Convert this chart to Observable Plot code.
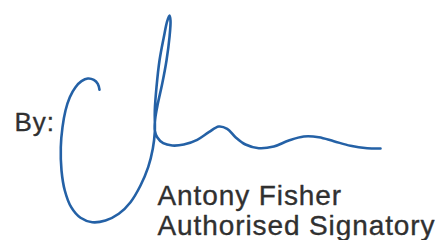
<!DOCTYPE html>
<html>
<head>
<meta charset="utf-8">
<script src="https://cdn.jsdelivr.net/npm/d3@7"></script>
<script src="https://cdn.jsdelivr.net/npm/@observablehq/plot@0.6"></script>
<style>
  html, body { margin: 0; padding: 0; background: #fff; }
  #chart svg { display: block; }
</style>
</head>
<body>
<div id="chart"></div>
<script>
// Signature stroke points (x, y in picture units, y downward)
const strokeX = [99,97.3,93.3,87.3,81,75,69.3,65,62,60.3,61,64.3,70.7,80,91.7,105,118.3,130,140,147.7,152.3,154.3,154.3,156,159,163.3,166.7,169,170,169,166,161.7,157.3,154.7,154.3,156.7,162.7,171.7,183.3,196.7,208.3,218.3,226.7,235,245,258.3,273.3,288.3,303.3,318.3,333.3,350,366.7,380];
const strokeY = [89.3,83.3,79.3,78,80.7,86.7,96.7,110,126.7,146.7,170,190,206.7,217.3,221.7,220,213.3,201.7,185,166.7,148.3,131.7,110,86.7,60,36.7,20.7,15,20,36.7,60,83.3,103.3,118.3,130,136.7,142.7,145,144,139.3,131.7,126,128.3,136.7,144,147.7,146,140,136,136.7,140.7,145.3,147.7,148];

// Text labels
const labelText = ["By:", "Antony Fisher", "Authorised Signatory"];
const labelX = [14, 157, 157];
const labelY = [130, 204, 234];

const stroke = strokeX.map((x, i) => ({x, y: strokeY[i]}));
const labels = labelText.map((t, i) => ({t, x: labelX[i], y: labelY[i]}));

const textStyle = {x: "x", y: "y", text: "t", textAnchor: "start", lineAnchor: "bottom", fontFamily: "Liberation Sans, Arial, sans-serif", fill: "#303030", stroke: "#303030", strokeWidth: 0.35};

const chart = Plot.plot({
  width: 443,
  height: 240,
  margin: 0,
  style: {background: "#fff"},
  x: {domain: [0, 443], range: [0, 443], axis: null},
  y: {domain: [0, 240], range: [0, 240], axis: null},
  marks: [
    Plot.line(stroke, {x: "x", y: "y", curve: "catmull-rom", stroke: "#2461a6", strokeWidth: 2.6, strokeLinecap: "round", strokeLinejoin: "round"}),
    Plot.text(labels.slice(0, 1), {...textStyle, fontSize: 26}),
    Plot.text(labels.slice(1), {...textStyle, fontSize: 28})
  ]
});
chart.querySelectorAll("text").forEach(t => t.setAttribute("letter-spacing", "0.9"));
document.getElementById("chart").appendChild(chart);
</script>
</body>
</html>
